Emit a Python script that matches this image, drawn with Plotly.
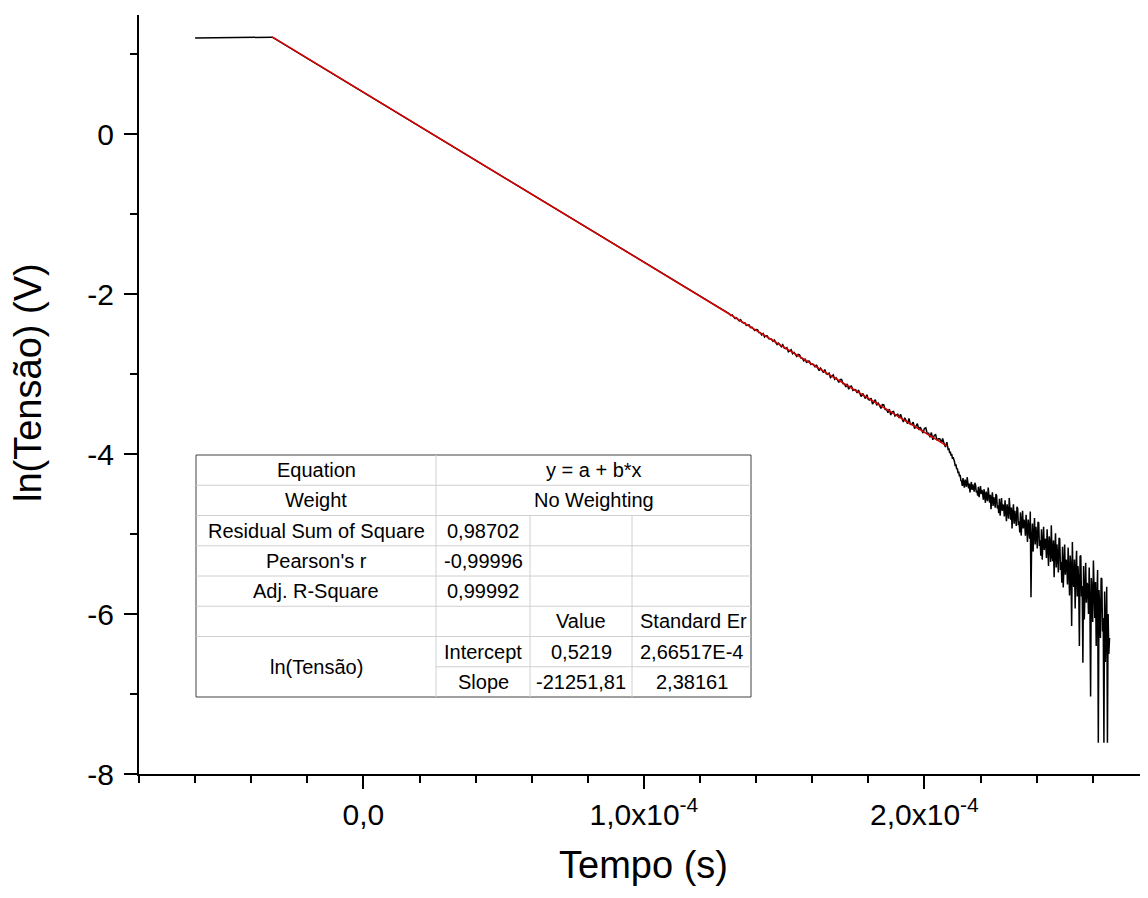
import numpy as np
import plotly.graph_objects as go

# ---- data ----
# saturated start + clean linear part (s, ln V)
tempo_inicio = [-6.0e-5, -3.25e-5, 0.0, 5.0e-5, 1.0e-4, 1.3e-4]
ln_inicio = [1.20, 1.21, 0.52, -0.54, -1.60, -2.24]

# slightly noisy part, sampled every dt_meio starting at t0_meio
t0_meio = 1.305e-4
dt_meio = 0.5e-6
ln_meio = [
    -2.247, -2.270, -2.261, -2.286, -2.307, -2.297, -2.314, -2.336, -2.321, -2.353,
    -2.362, -2.359, -2.394, -2.387, -2.387, -2.420, -2.415, -2.434, -2.455, -2.443,
    -2.446, -2.481, -2.485, -2.512, -2.494, -2.537, -2.522, -2.524, -2.559, -2.558,
    -2.564, -2.591, -2.575, -2.606, -2.631, -2.613, -2.632, -2.659, -2.635, -2.674,
    -2.684, -2.672, -2.723, -2.703, -2.696, -2.745, -2.730, -2.753, -2.781, -2.755,
    -2.760, -2.801, -2.804, -2.835, -2.810, -2.861, -2.839, -2.840, -2.880, -2.876,
    -2.880, -2.915, -2.886, -2.927, -2.958, -2.927, -2.950, -2.984, -2.944, -2.997,
    -3.004, -2.988, -3.046, -3.021, -3.011, -3.066, -3.047, -3.073, -3.104, -3.070,
    -3.070, -3.123, -3.123, -3.161, -3.123, -3.190, -3.155, -3.151, -3.204, -3.194,
    -3.197, -3.236, -3.201, -3.247, -3.282, -3.243, -3.268, -3.307, -3.258, -3.317,
    -3.326, -3.301, -3.375, -3.338, -3.321, -3.391, -3.362, -3.392, -3.431, -3.382,
    -3.384, -3.443, -3.441, -3.484, -3.439, -3.513, -3.472, -3.467, -3.525, -3.512,
    -3.503, -3.550, -3.502, -3.557, -3.599, -3.547, -3.576, -3.622, -3.556, -3.630,
    -3.631, -3.601, -3.684, -3.641, -3.620, -3.698, -3.664, -3.697, -3.739, -3.682,
    -3.674, -3.745, -3.740, -3.791, -3.732, -3.822, -3.768, -3.758, -3.829, -3.810,
    -3.810, -3.861, -3.807, -3.867, -3.913, -3.853]

# noisy tail after the knee, sampled every dt_cauda
t0_cauda = 2.0825e-4
dt_cauda = 0.25e-6
ln_cauda = [
    -3.90, -3.95, -3.93, -3.99, -3.97, -4.02, -4.00, -4.06, -4.04, -4.10,
    -4.10, -4.15, -4.13, -4.19, -4.18, -4.24, -4.22, -4.28, -4.26, -4.33,
    -4.34, -4.40, -4.30, -4.37, -4.42, -4.32, -4.35, -4.41, -4.29, -4.39,
    -4.43, -4.37, -4.48, -4.40, -4.35, -4.45, -4.38, -4.42, -4.47, -4.36,
    -4.39, -4.48, -4.46, -4.52, -4.41, -4.54, -4.44, -4.40, -4.50, -4.45,
    -4.49, -4.57, -4.44, -4.54, -4.61, -4.47, -4.51, -4.59, -4.42, -4.56,
    -4.61, -4.51, -4.69, -4.56, -4.48, -4.65, -4.54, -4.59, -4.67, -4.50,
    -4.52, -4.68, -4.64, -4.74, -4.56, -4.77, -4.60, -4.55, -4.71, -4.63,
    -4.66, -4.78, -4.58, -4.73, -4.84, -4.63, -4.69, -4.81, -4.55, -4.76,
    -4.82, -4.67, -4.93, -4.74, -4.63, -4.87, -4.71, -4.79, -4.90, -4.66,
    -4.68, -4.89, -4.84, -4.98, -4.73, -5.02, -4.79, -4.71, -4.93, -4.82,
    -4.86, -5.02, -4.76, -4.96, -5.10, -4.82, -4.90, -5.06, -4.72, -5.79,
    -5.07, -4.87, -5.22, -4.96, -4.80, -5.13, -4.91, -5.02, -5.18, -4.85,
    -4.86, -5.15, -5.08, -5.27, -4.94, -5.32, -5.01, -4.91, -5.20, -5.06,
    -5.08, -5.30, -4.94, -5.21, -5.40, -5.03, -5.13, -5.35, -4.89, -5.27,
    -5.34, -5.08, -5.54, -5.19, -4.99, -5.42, -5.13, -5.28, -5.48, -5.05,
    -5.06, -5.45, -5.35, -5.61, -5.16, -5.67, -5.25, -5.13, -5.51, -5.32,
    -5.35, -5.63, -5.17, -5.52, -5.77, -5.27, -5.41, -6.15, -5.10, -5.59,
    -5.66, -5.32, -5.93, -5.47, -5.21, -5.78, -5.40, -5.59, -6.40, -5.28,
    -5.27, -5.78, -5.65, -6.61, -5.40, -6.07, -5.52, -5.36, -5.86, -5.61,
    -5.65, -6.00, -5.42, -5.87, -7.03, -5.55, -5.74, -6.10, -5.33, -5.96,
    -6.05, -5.60, -6.40, -5.80, -5.45, -7.61, -5.70, -5.95, -6.30, -5.55,
    -5.56, -6.22, -6.05, -7.61, -5.72, -6.60, -5.88, -5.66, -7.61, -6.00,
    -6.50, -6.30]

# linear fit (red line) end points
tempo_ajuste = [-3.25e-5, 2.08e-4]
ln_ajuste = [1.213, -3.898]

# fit report table
rotulos_estat = ["Equation", "Weight", "Residual Sum of Square", "Pearson's r", "Adj. R-Square"]
valores_estat = ["y = a + b*x", "No Weighting", "0,98702", "-0,99996", "0,99992"]
cabecalho_param = ["Value", "Standard Er"]
nome_dataset = "ln(Tensão)"
nomes_param = ["Intercept", "Slope"]
valores_param = ["0,5219", "-21251,81"]
erros_param = ["2,66517E-4", "2,38161"]

# axis ticks
x_ticks = [0.0, 1.0e-4, 2.0e-4]
x_ticktext = ["0,0", "1,0x10<sup>-4</sup>", "2,0x10<sup>-4</sup>"]
x_minor = [-8e-5, -6e-5, -4e-5, -2e-5, 2e-5, 4e-5, 6e-5, 8e-5,
           1.2e-4, 1.4e-4, 1.6e-4, 1.8e-4, 2.2e-4, 2.4e-4, 2.6e-4]
y_ticks = [0, -2, -4, -6, -8]
y_ticktext = ["0", "-2", "-4", "-6", "-8"]
y_minor = [1, -1, -3, -5, -7]

# build the sampled trace (uniform sampling inside each noisy block)
tempo = np.concatenate([tempo_inicio,
                        t0_meio + dt_meio * np.arange(len(ln_meio)),
                        t0_cauda + dt_cauda * np.arange(len(ln_cauda))])
ln_v = np.concatenate([ln_inicio, ln_meio, ln_cauda])

FONT = "Arial, Liberation Sans, sans-serif"
OFF = 8  # the page body adds an 8 px margin around the figure
W, H = 1140, 890
ML, MR, MT, MB = 131, 0, 7, 124
PW, PH = W - ML - MR, H - MT - MB

fig = go.Figure()
fig.add_trace(go.Scatter(x=tempo, y=ln_v, mode="lines",
                         line=dict(color="black", width=1.5)))
fig.add_trace(go.Scatter(x=tempo_ajuste, y=ln_ajuste, mode="lines",
                         line=dict(color="#e00000", width=1.5)))


# ---- table (page pixel positions -> paper coords) ----
def px(p):
    return (p - OFF - ML) / PW


def py(p):
    return (H - MB - (p - OFF)) / PH


col_x = [196, 436, 530, 632, 751]
row_y = [455 + 30.25 * i for i in range(9)]
grid = "#d0d0d0"
shapes = [dict(type="rect", xref="paper", yref="paper",
               x0=px(col_x[0]), x1=px(col_x[4]), y0=py(row_y[0]), y1=py(row_y[8]),
               fillcolor="white", line=dict(color="#404040", width=1), layer="above")]
for i in range(1, 8):
    x_start = col_x[1] if i == 7 else col_x[0]
    shapes.append(dict(type="line", xref="paper", yref="paper",
                       x0=px(x_start), x1=px(col_x[4]), y0=py(row_y[i]), y1=py(row_y[i]),
                       line=dict(color=grid, width=1), layer="above"))
shapes.append(dict(type="line", xref="paper", yref="paper",
                   x0=px(col_x[1]), x1=px(col_x[1]), y0=py(row_y[0]), y1=py(row_y[8]),
                   line=dict(color=grid, width=1), layer="above"))
for c in (2, 3):
    shapes.append(dict(type="line", xref="paper", yref="paper",
                       x0=px(col_x[c]), x1=px(col_x[c]), y0=py(row_y[2]), y1=py(row_y[8]),
                       line=dict(color=grid, width=1), layer="above"))

anns = []


def cell(text, xc, yc):
    anns.append(dict(text=text, xref="paper", yref="paper", x=px(xc), y=py(yc),
                     showarrow=False, xanchor="center", yanchor="middle",
                     font=dict(family=FONT, size=20, color="black")))


def mid(a, b):
    return (a + b) / 2


for i, (lab, val) in enumerate(zip(rotulos_estat, valores_estat)):
    yc = mid(row_y[i], row_y[i + 1])
    cell(lab, mid(col_x[0], col_x[1]), yc)
    if i < 2:
        cell(val, mid(col_x[1], col_x[4]), yc)
    else:
        cell(val, mid(col_x[1], col_x[2]), yc)
cell(cabecalho_param[0], mid(col_x[2], col_x[3]), mid(row_y[5], row_y[6]))
cell(cabecalho_param[1], mid(col_x[3], col_x[4]) + 2, mid(row_y[5], row_y[6]))
cell(nome_dataset, mid(col_x[0], col_x[1]), row_y[7])
for k in range(2):
    yc = mid(row_y[6 + k], row_y[7 + k])
    cell(nomes_param[k], mid(col_x[1], col_x[2]), yc)
    cell(valores_param[k], mid(col_x[2], col_x[3]), yc)
    cell(erros_param[k], mid(col_x[3], col_x[4]), yc)

# y title
anns.append(dict(text="ln(Tensão) (V)", xref="paper", yref="paper",
                 x=px(28), y=py(383), showarrow=False, textangle=-90,
                 xanchor="center", yanchor="middle",
                 font=dict(family=FONT, size=38, color="black")))

axis_common = dict(showline=True, linecolor="black", linewidth=2, mirror=False,
                   ticks="outside", ticklen=13, tickwidth=2, tickcolor="black",
                   showgrid=False, zeroline=False,
                   tickfont=dict(family=FONT, size=30, color="black"))

fig.update_layout(
    width=W, height=H,
    margin=dict(l=ML, r=MR, t=MT, b=MB, autoexpand=False),
    plot_bgcolor="white", paper_bgcolor="white",
    showlegend=False,
    font=dict(family=FONT, color="black"),
    shapes=shapes, annotations=anns,
    xaxis=dict(range=[-0.8e-4, -0.8e-4 + PW / 280.5 * 1e-4],
               tickmode="array", tickvals=x_ticks, ticktext=x_ticktext,
               minor=dict(tickvals=x_minor, ticks="outside", ticklen=7, tickwidth=2, tickcolor="black"),
               title=dict(text="Tempo (s)", font=dict(family=FONT, size=38, color="black"), standoff=21),
               **axis_common),
    yaxis=dict(range=[-8, -8 + PH / 80.0],
               tickmode="array", tickvals=y_ticks, ticktext=y_ticktext,
               ticklabelstandoff=4,
               minor=dict(tickvals=y_minor, ticks="outside", ticklen=7, tickwidth=2, tickcolor="black"),
               **axis_common),
)

fig.write_html("out.html")
